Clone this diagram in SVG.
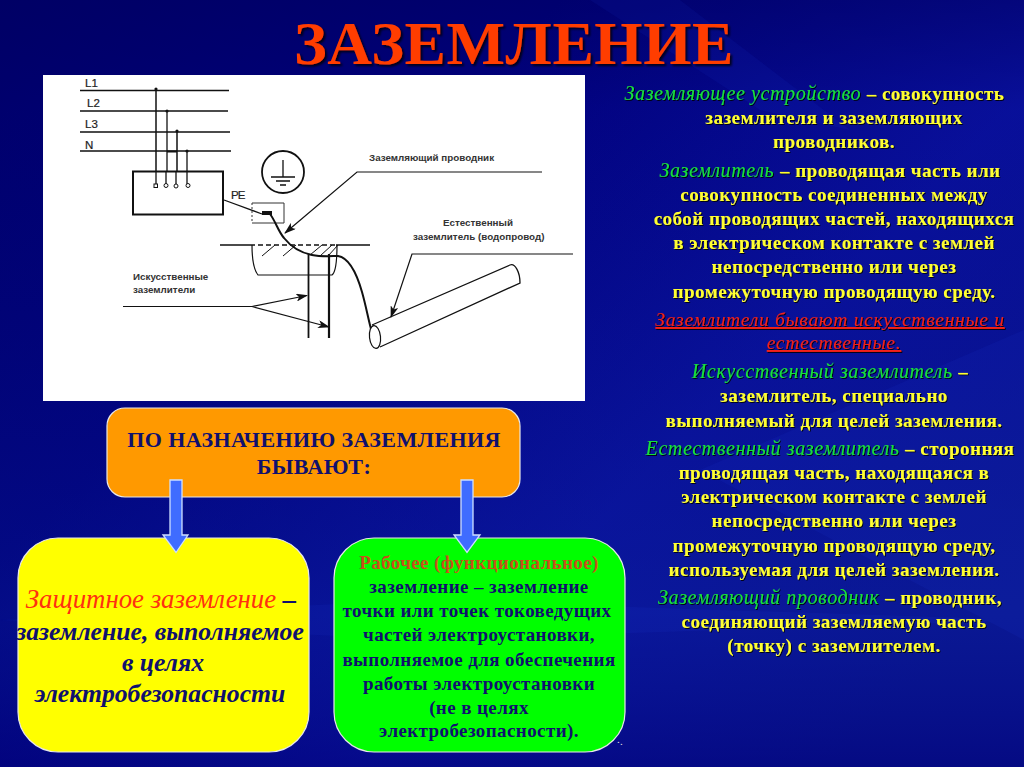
<svg xmlns="http://www.w3.org/2000/svg" width="1024" height="767" viewBox="0 0 1024 767">
<defs>
<linearGradient id="bg" x1="0" y1="0" x2="1" y2="0.75">
<stop offset="0" stop-color="#00006c"/><stop offset="0.35" stop-color="#000080"/><stop offset="0.7" stop-color="#0a12a4"/><stop offset="1" stop-color="#0a1496"/>
</linearGradient>
<linearGradient id="bgv" x1="0" y1="0" x2="0" y2="1">
<stop offset="0" stop-color="#000060" stop-opacity="0.55"/><stop offset="0.14" stop-color="#000060" stop-opacity="0.15"/><stop offset="0.8" stop-color="#0a2090" stop-opacity="0.35"/><stop offset="1" stop-color="#000070" stop-opacity="0.5"/>
</linearGradient>
<filter id="sh" x="-5%" y="-5%" width="110%" height="110%"><feDropShadow dx="1" dy="1" stdDeviation="0.5" flood-color="#000" flood-opacity="0.85"/></filter>
<filter id="sh2" x="-5%" y="-10%" width="110%" height="125%"><feDropShadow dx="2" dy="2" stdDeviation="1" flood-color="#000" flood-opacity="0.8"/></filter>
<marker id="ah" markerWidth="12" markerHeight="8" refX="11" refY="4" orient="auto" markerUnits="userSpaceOnUse"><path d="M0 0L12 4L0 8L3 4Z" fill="#111"/></marker>
</defs>
<style>
.t{font-family:"Liberation Serif","Times New Roman",serif;font-size:19px;font-weight:700;letter-spacing:.5px;text-anchor:middle;fill:#ffff33}
.i{font-style:italic;font-weight:400;font-size:20px;letter-spacing:.6px;fill:#19e03c}
.e{font-style:italic;font-weight:400;font-size:19.500px;letter-spacing:.7px;fill:#f0201a;text-decoration:underline}
.g{font-family:"Liberation Sans",Arial,sans-serif;font-size:9.800px;font-weight:700;fill:#333}
.n{font-family:"Liberation Sans",Arial,sans-serif;font-size:11.500px;fill:#222;stroke:#222;stroke-width:.2}
.l{stroke:#111;fill:none}
.a{fill:#3f6cff;stroke:#cfe0ff;stroke-width:1.3}
.c{font-family:"Liberation Serif",serif;font-weight:700;text-anchor:middle;fill:#10106e}
.o{font-size:22px;letter-spacing:.4px}
.y{font-size:25.700px;font-style:italic}
.w{font-size:19px;letter-spacing:.4px}
</style>
<rect width="1024" height="767" fill="url(#bg)"/>
<rect width="1024" height="767" fill="url(#bgv)"/>
<g fill="#3050ff" opacity="0.07">
<path d="M1024 330L700 470L1024 640Z"/>
<path d="M590 0L680 0L850 130L760 110Z"/>
<path d="M0 620L420 600L1024 620L420 640Z"/>
</g>
<text x="514" y="64" text-anchor="middle" font-family="Liberation Serif,serif" font-weight="700" font-size="62" letter-spacing=".6" fill="#ff3c00" filter="url(#sh2)">ЗАЗЕМЛЕНИЕ</text>

<g id="figure">
<rect x="43" y="75" width="542" height="326" fill="#fff"/>
<g class="l" stroke-width="1.300">
<path d="M80 90.500H229M80 111H228M80 132H230M80 151H231"/>
<path d="M156 89V172" stroke-width="1.500"/><path d="M167 111V172"/><path d="M177 131V172" stroke-width="1.500"/><path d="M187 151V184"/>
<path d="M167 151.500H177" stroke-width="2"/>
<path d="M156 172V184M166 172V184M176 172V184" stroke-width="1.300"/>
</g>
<g fill="#111"><circle cx="156" cy="89" r="1.600"/><circle cx="167" cy="111" r="1.600"/><circle cx="177" cy="131" r="1.600"/><circle cx="187" cy="151" r="1.600"/></g>
<rect x="133" y="171.500" width="90" height="43" fill="none" stroke="#111" stroke-width="2"/>
<g fill="#fff" stroke="#111"><rect x="154" y="184" width="3.500" height="3.500"/><circle cx="166" cy="185.500" r="2"/><circle cx="176" cy="186" r="2"/><circle cx="188" cy="185.500" r="2"/></g>
<text class="n" x="85" y="87">L1</text><text class="n" x="87" y="107">L2</text><text class="n" x="85" y="128">L3</text><text class="n" x="85" y="149">N</text>
<text class="n" x="231" y="199" letter-spacing="-.8">PE</text>
<circle cx="283" cy="172" r="21" fill="#fff" stroke="#111" stroke-width="1.800"/>
<path class="l" d="M283 160V177M271 177H295M276 181H290M280 185H286" stroke-width="1.300"/>
<path class="l" d="M224 200L262 214" stroke-width="1.300"/>
<path d="M252 203H284V223H252" fill="none" stroke="#333"/>
<path d="M252 203V223" fill="none" stroke="#333" stroke-dasharray="2 2"/>
<rect x="262" y="211" width="10" height="4" fill="#111"/>
<path class="l" d="M270 214C276 222 278 231 284 238C292 248 302 253 312 255C322 257 332 256 338 256C350 258 358 278 362 292C366 306 368 318 371 329" stroke-width="2"/>
<path class="l" d="M220 245H250M336 245H370" stroke-width="1.300"/>
<path class="l" d="M250 245H336" stroke-width="1.300" stroke-dasharray="5 3"/>
<path class="l" d="M252 245C252 258 254 270 258 275H332C336 272 337 258 337 245" stroke-width="1.200"/>
<path class="l" d="M262 256L275 245M283 256L296 245M310 255L322 245M320 256L332 245M328 256L338 245" stroke-width="1"/>
<path class="l" d="M308.500 254V338" stroke-width="1.800"/><path class="l" d="M329 254V338" stroke-width="2.200"/>
<path class="l" d="M123 306.500H252" stroke-width="1.200"/>
<path class="l" d="M252 306.500L307 295.500" stroke-width="1.200" marker-end="url(#ah)"/>
<path class="l" d="M252 306.500L329 327" stroke-width="1.200" marker-end="url(#ah)"/>
<path class="l" d="M542 172H357L285 233" stroke-width="1.200" marker-end="url(#ah)"/>
<path class="l" d="M573 254H412L391 317" stroke-width="1.200" marker-end="url(#ah)"/>
<ellipse cx="375" cy="337" rx="5.500" ry="11.500" fill="#fff" stroke="#111" stroke-width="1.200" transform="rotate(-6 375 337)"/>
<path class="l" d="M372 325L510 265C515 263 520 272 520 283L380 347" stroke-width="1.300"/>
<text class="g" x="369" y="161">Заземляющий проводник</text>
<text class="g" x="443" y="226">Естественный</text>
<text class="g" x="413" y="240">заземлитель (водопровод)</text>
<text class="g" x="133" y="280">Искусственные</text>
<text class="g" x="133" y="293">заземлители</text>
</g>

<g id="box-top">
<rect x="107" y="408" width="413" height="89" rx="18" fill="#ff9900" stroke="#e8e8e8" stroke-width="1.200"/>
<text class="c o" x="314" y="447">ПО НАЗНАЧЕНИЮ ЗАЗЕМЛЕНИЯ</text>
<text class="c o" x="314" y="474">БЫВАЮТ:</text>
</g>
<g id="box-protect">
<rect x="18" y="538" width="291" height="214" rx="40" fill="#ffff00" stroke="#e8e8e8" stroke-width="1.200"/>
<text x="161" y="608" text-anchor="middle" font-family="Liberation Serif,serif" font-size="26.800" font-style="italic"><tspan fill="#ff3010">Защитное заземление </tspan><tspan fill="#10106e" font-weight="700">–</tspan></text>
<text class="c y" x="160" y="640">заземление, выполняемое</text>
<text class="c y" x="163" y="671">в целях</text>
<text class="c y" x="160" y="702">электробезопасности</text>
</g>
<text x="617" y="743" font-family="Liberation Serif,serif" font-size="11" fill="#e0e0e0">.</text>
<g id="box-work">
<rect x="334" y="538" width="291" height="214" rx="40" fill="#00ff00" stroke="#e8e8e8" stroke-width="1.200"/>
<text class="c w" x="479" y="569" style="fill:#c8501a">Рабочее (функциональное)</text>
<text class="c w" x="479" y="593">заземление – заземление</text>
<text class="c w" x="477" y="617">точки или точек токоведущих</text>
<text class="c w" x="479" y="641">частей электроустановки,</text>
<text class="c w" x="479" y="666">выполняемое для обеспечения</text>
<text class="c w" x="479" y="690">работы электроустановки</text>
<text class="c w" x="479" y="714">(не в целях</text>
<text class="c w" x="479" y="737">электробезопасности).</text>
</g>
<text x="620" y="745" font-family="Liberation Serif,serif" font-size="11" fill="#e0e0e0">.</text>
<g id="connectors">
<path class="a" d="M170 480H182V535H188L176 552.500L163 535H170Z"/>
<path class="a" d="M461 480H473V535H480L467 552.500L454 535H461Z"/>
</g>

<g id="definitions" filter="url(#sh)">
<text class="t" x="814.500" y="100"><tspan class="i">Заземляющее устройство </tspan>– совокупность</text>
<text class="t" x="834" y="124">заземлителя и заземляющих</text>
<text class="t" x="834" y="148">проводников.</text>
<text class="t" x="830" y="177"><tspan class="i">Заземлитель </tspan>– проводящая часть или</text>
<text class="t" x="834" y="201">совокупность соединенных между</text>
<text class="t" x="834" y="225">собой проводящих частей, находящихся</text>
<text class="t" x="834" y="249">в электрическом контакте с землей</text>
<text class="t" x="834" y="273">непосредственно или через</text>
<text class="t" x="834" y="298">промежуточную проводящую среду.</text>
<text class="t e" x="830" y="326">Заземлители бывают искусственные и</text>
<text class="t e" x="834" y="349">естественные.</text>
<text class="t" x="830" y="378"><tspan class="i">Искусственный заземлитель </tspan>–</text>
<text class="t" x="834" y="402">заземлитель, специально</text>
<text class="t" x="834" y="427">выполняемый для целей заземления.</text>
<text class="t" x="830" y="455"><tspan class="i">Естественный заземлитель </tspan>– сторонняя</text>
<text class="t" x="834" y="479">проводящая часть, находящаяся в</text>
<text class="t" x="834" y="503">электрическом контакте с землей</text>
<text class="t" x="834" y="527">непосредственно или через</text>
<text class="t" x="834" y="552">промежуточную проводящую среду,</text>
<text class="t" x="834" y="576">используемая для целей заземления.</text>
<text class="t" x="830" y="604"><tspan class="i">Заземляющий проводник </tspan>– проводник,</text>
<text class="t" x="834" y="628">соединяющий заземляемую часть</text>
<text class="t" x="834" y="652">(точку) с заземлителем.</text>
</g>
</svg>
